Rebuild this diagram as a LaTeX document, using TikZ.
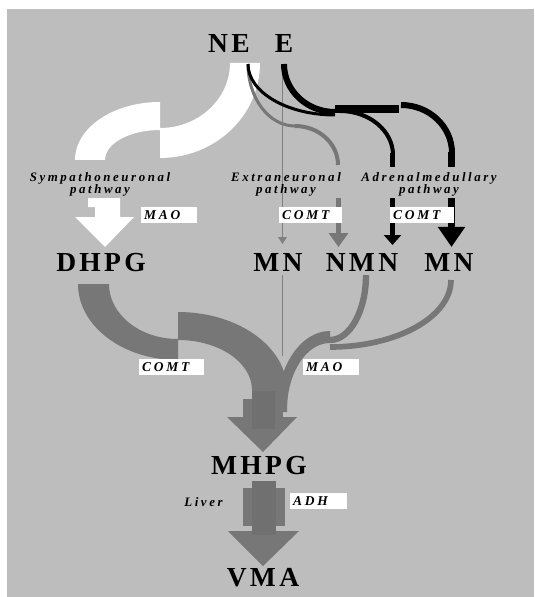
\documentclass[tikz,border=0pt]{standalone}
\usepackage{fontspec}
\setmainfont{Liberation Serif}
\newfontfamily\metabfamily{Liberation Serif}[LetterSpace=12]
\newfontfamily\tagfamily{Liberation Serif}[LetterSpace=20]
\usetikzlibrary{arrows.meta,positioning}
\definecolor{bgGray}{RGB}{189,189,189}
\definecolor{flowGray}{RGB}{119,119,119}
\definecolor{flowDark}{RGB}{112,112,112}
\definecolor{traceGray}{RGB}{128,128,128}

\begin{document}
\begin{tikzpicture}[
        x=0.03cm, y=-0.03cm,
        metab/.style={anchor=base, inner sep=0pt, font=\metabfamily\bfseries\fontsize{23.5pt}{28pt}\selectfont},
        route/.style={anchor=base, inner sep=0pt, align=center, font=\tagfamily\bfseries\itshape\fontsize{11pt}{10.2pt}\selectfont},
        enzyme/.style={anchor=north west, fill=white, inner xsep=0.09cm, inner ysep=0pt, minimum height=0.48cm, align=left, font=\tagfamily\bfseries\itshape\fontsize{11.5pt}{13pt}\selectfont},
        blackflow/.style={draw=black, line width=#1},
        grayflow/.style={draw=flowGray, line width=#1}
    ]
        % canvas
        \fill[white] (0,0) rectangle (534,597);
        \fill[bgGray] (7,9) rectangle (534,597);
        
        % Sympathoneuronal band (white)
        \fill[white] (75,160) arc[start angle=180, end angle=270, x radius=85, y radius=58] -- (160,130) arc[start angle=270, end angle=180, x radius=55, y radius=30] -- cycle;
        \fill[white] (260,63) arc[start angle=0, end angle=90, x radius=100, y radius=95] -- (160,128) arc[start angle=90, end angle=0, x radius=70, y radius=65] -- cycle;
        \fill[white] (88,198) -- (120,198) -- (120,217) -- (134,217) -- (105,247) -- (75,217) -- (95,217) -- (95,207) -- (88,207) -- cycle;
        
        % Extraneuronal pathway (gray)
        \draw[grayflow=0.09cm] (248,64) arc[start angle=180, end angle=90, x radius=47, y radius=62];
        \draw[grayflow=0.12cm] (295,126) arc[start angle=270, end angle=360, x radius=43, y radius=39];
        \draw[grayflow=0.15cm, -{Triangle[length=0.42cm, width=0.57cm]}] (338.5,198) -- (338.5,247);
        
        % thin line E -> MN -> MHPG
        \draw[traceGray, line width=0.03cm] (282.5,64) -- (282.5,238);
        \fill[traceGray] (278,237) -- (287,237) -- (282.5,244) -- cycle;
        \draw[traceGray, line width=0.03cm] (282.5,275) -- (282.5,356);
        
        % Adrenalmedullary pathway (black)
        \draw[blackflow=0.09cm] (248,64) arc[start angle=180, end angle=90, x radius=87, y radius=51];
        \draw[blackflow=0.18cm] (284,64) arc[start angle=180, end angle=90, x radius=51, y radius=48];
        \draw[blackflow=0.22cm] (335,109) -- (399,109);
        \draw[blackflow=0.12cm] (340,111) arc[start angle=270, end angle=360, x radius=53, y radius=44];
        \draw[blackflow=0.16cm] (392.5,153) -- (392.5,167);
        \draw[blackflow=0.18cm] (401,105) arc[start angle=270, end angle=360, x radius=51, y radius=48];
        \draw[blackflow=0.2cm] (451.5,152) -- (451.5,167);
        \draw[blackflow=0.15cm, -{Triangle[length=0.3cm, width=0.51cm]}] (392.5,198) -- (392.5,245);
        \draw[blackflow=0.19cm, -{Triangle[length=0.6cm, width=0.78cm]}] (451.5,198) -- (451.5,247);
        
        % DHPG -> MHPG (COMT)
        \fill[flowGray] (78,284) arc[start angle=180, end angle=90, x radius=100, y radius=76] -- (178,339) arc[start angle=90, end angle=180, x radius=69, y radius=55] -- cycle;
        \fill[flowGray] (178,312) arc[start angle=270, end angle=360, x radius=109, y radius=78] -- (287,405) -- (252,405) -- (252,390) arc[start angle=0, end angle=-90, x radius=74, y radius=50] -- cycle;
        
        % NMN, MN -> MHPG (MAO)
        \draw[grayflow=0.19cm] (366,275) arc[start angle=0, end angle=90, x radius=36, y radius=65];
        \draw[grayflow=0.17cm] (451,280) arc[start angle=0, end angle=90, x radius=121, y radius=67];
        \fill[flowGray] (330,331) arc[start angle=270, end angle=180, x radius=53, y radius=79] -- (277,412) -- (287,412) -- (287,410) arc[start angle=180, end angle=270, x radius=43, y radius=67] -- cycle;
        
        % block arrows
        \fill[flowGray] (243,399) rectangle (283,417);
        \fill[flowGray] (227,417) -- (297,417) -- (263,452) -- cycle;
        \fill[flowDark] (252,391) rectangle (275,429);
        \fill[flowGray] (243,488) rectangle (285,526);
        \fill[flowGray] (228,531) -- (299,531) -- (263,566) -- cycle;
        \fill[flowDark] (252,481) rectangle (276,535);
        
        % metabolites
        \node[metab] (NE) at (229,53) {NE};
        \node[metab] (E) at (284,53) {E};
        \node[metab] (DHPG) at (101,271) {DHPG};
        \node[metab] (MNa) at (278,271) {MN};
        \node[metab] (NMN) at (362,271) {NMN};
        \node[metab] (MNb) at (449,271) {MN};
        \node[metab] (MHPG) at (259,474) {MHPG};
        \node[metab] (VMA) at (263,586) {VMA};
        
        % pathway labels
        \node[route] (symp) at (100,193) {Sympathoneuronal\\pathway};
        \node[route] (extra) at (286,193) {Extraneuronal\\pathway};
        \node[route] (adren) at (429,193) {Adrenalmedullary\\pathway};
        \node[route] (liver) at (203.5,506) {Liver};
        
        % enzymes
        \node[enzyme, text width=1.5cm] (maoA) at (141,207) {MAO};
        \node[enzyme, text width=1.71cm] (comtA) at (279,207) {COMT};
        \node[enzyme, text width=1.74cm] (comtB) at (390,207) {COMT};
        \node[enzyme, text width=1.77cm] (comtC) at (139,359) {COMT};
        \node[enzyme, text width=1.5cm] (maoB) at (303,359) {MAO};
        \node[enzyme, text width=1.53cm] (adh) at (290,493) {ADH};
        
        \useasboundingbox (0,0) rectangle (534,597);
    \end{tikzpicture}
\end{document}
